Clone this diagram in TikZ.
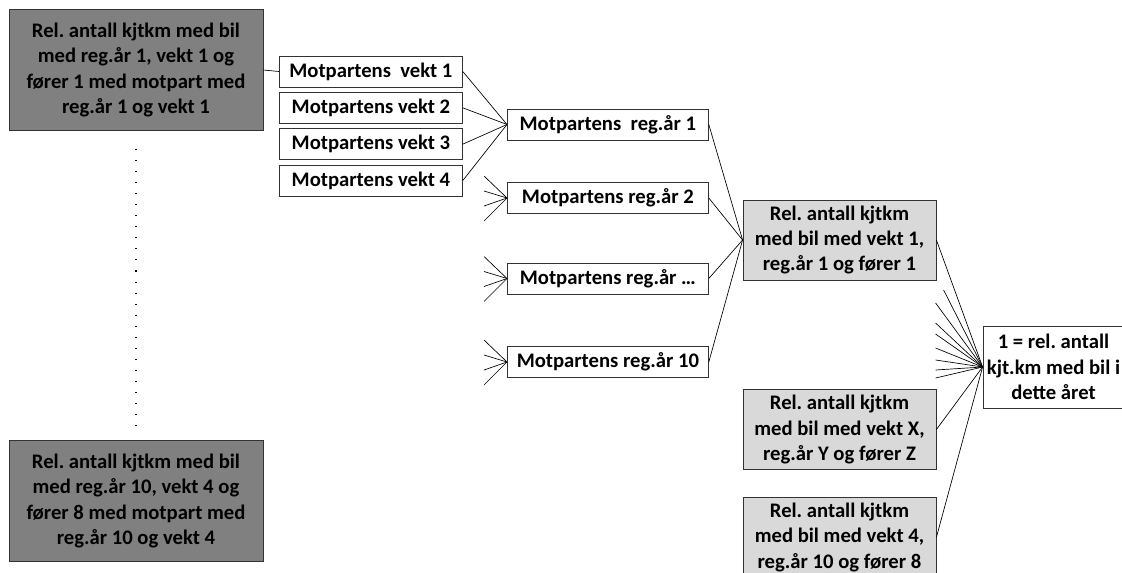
\documentclass[tikz,border=0pt]{standalone}
\usepackage{fontspec}
\setmainfont{Carlito}
\frenchspacing
\usetikzlibrary{positioning}
\tikzset{
  box/.style={draw=black!80, line width=0.6pt, align=center, inner sep=0pt,
    font=\fontsize{15.5}{19}\selectfont\bfseries},
  dark/.style={box, fill=black!50, minimum width=190.5pt, minimum height=90.5pt},
  small/.style={box, fill=white, minimum height=23.25pt, anchor=west},
  light/.style={box, fill=black!15, minimum width=144.75pt, minimum height=60pt},
  link/.style={black, line width=0.5pt}
}

\begin{document}
\begin{tikzpicture}[x=0.75pt,y=-0.75pt]
\useasboundingbox (0,0) rectangle (1122,572);
\clip (0,0) rectangle (1122,572);
% left column
\node[dark] (a1) at (136,70) {Rel. antall kjtkm med bil\\med reg.år 1, vekt 1 og\\fører 1 med motpart med\\reg.år 1 og vekt 1};
\node[dark] (a2) at (136,501) {Rel. antall kjtkm med bil\\med reg.år 10, vekt 4 og\\fører 8 med motpart med\\reg.år 10 og vekt 4};
% motpartens vekt
\node[small, minimum width=137.25pt] (v1) at (279,71.5) {Motpartens\ \ vekt 1};
\node[small, minimum width=137.25pt, below=3.4pt of v1] (v2) {Motpartens vekt 2};
\node[small, minimum width=137.25pt, below=3.4pt of v2] (v3) {Motpartens vekt 3};
\node[small, minimum width=137.25pt, below=3.4pt of v3] (v4) {Motpartens vekt 4};
% motpartens reg.år
\node[small, minimum width=150.75pt] (r1) at (507,124.5) {Motpartens\ \ reg.år 1};
\node[small, minimum width=150.75pt] (r2) at (507,198) {Motpartens reg.år 2};
\node[small, minimum width=150.75pt] (r3) at (507,278.5) {Motpartens reg.år …};
\node[small, minimum width=150.75pt] (r4) at (507,362) {Motpartens reg.år 10};
% rel. antall per bil
\node[light] (l1) at (839.5,240) {Rel. antall kjtkm\\med bil med vekt 1,\\reg.år 1 og fører 1};
\node[light] (l2) at (839.5,429.5) {Rel. antall kjtkm\\med bil med vekt X,\\reg.år Y og fører Z};
\node[light, below=20.25pt of l2] (l3) {Rel. antall kjtkm\\med bil med vekt 4,\\reg.år 10 og fører 8};
\node[box, fill=white, minimum width=105.75pt, minimum height=61.5pt] (z) at (1053.5,367) {1 = rel. antall\\kjt.km med bil i\\dette året};

\draw[black, line width=0.8pt, dotted, dash pattern=on 0.8pt off 7.5pt, shorten <=13.5pt, shorten >=9pt] (a1.south) -- (a2.north);
\draw[link] (a1.east) -- (v1.west);
\foreach \v in {v1,v2,v3,v4}
  \draw[link] (\v.east) -- (r1.west);
\foreach \n in {r2,r3,r4}{
  \foreach \dy [count=\i] in {-22,-7,8,23}{
    \path (\n.west) ++(-23,\dy) coordinate (\n-\i);
    \draw[link] (\n-\i) -- (\n.west);
  }
}
\foreach \r in {r1,r2,r3,r4}
  \draw[link] (\r.east) -- (l1.west);
\foreach \dx/\dy [count=\i] in {-39/-77,-47/-64,-47/-44,-47/-33,-47/-19,-47/-7,-47/3,-47/11}{
  \path (z.west) ++(\dx,\dy) coordinate (z-\i);
  \draw[link] (z-\i) -- (z.west);
}
\foreach \l in {l1,l2,l3}
  \draw[link] (\l.east) -- (z.west);
\end{tikzpicture}
\end{document}
